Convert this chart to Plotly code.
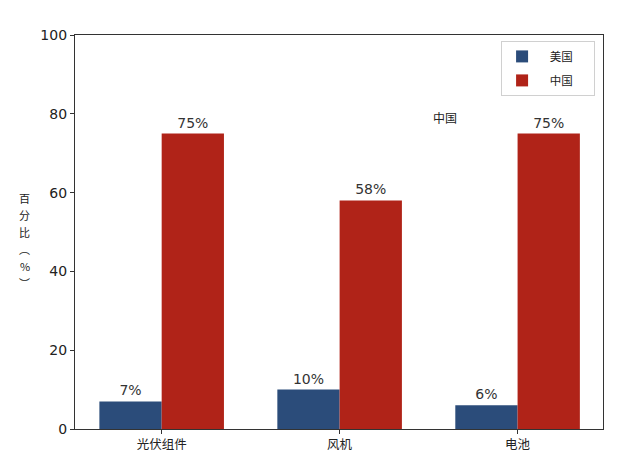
import plotly.graph_objects as go

categories = ["光伏组件", "风机", "电池"]
us_values = [7, 10, 6]
cn_values = [75, 58, 75]
series_names = ["美国", "中国"]
y_ticks = [0, 20, 40, 60, 80, 100]
y_label_chars = ["百", "分", "比", "︵", "%", "︶"]

BLUE = "#2b4c7a"
RED = "#b02318"
FONT = "DejaVu Sans, Noto Sans CJK SC, sans-serif"
NB = "\u00a0"

fig = go.Figure()
fig.add_trace(go.Bar(
    x=categories, y=us_values, name=NB * 3 + series_names[0] + NB * 6,
    legendgroup="a", marker_color=BLUE, marker_line_width=0,
    text=[f"{v}%" for v in us_values], textposition="outside",
    textfont=dict(size=14, color="#333333", family=FONT), cliponaxis=False,
))
fig.add_trace(go.Bar(
    x=categories, y=cn_values, name=NB * 3 + series_names[1] + NB * 6,
    legendgroup="b", marker_color=RED, marker_line_width=0,
    text=[f"{v}%" for v in cn_values], textposition="outside",
    textfont=dict(size=14, color="#333333", family=FONT), cliponaxis=False,
))

fig.update_layout(
    width=632, height=465,
    margin=dict(l=67, r=37, t=27, b=44),
    paper_bgcolor="white", plot_bgcolor="white",
    barmode="group", bargap=0.3, bargroupgap=0,
    font=dict(family=FONT, color="#222222"),
    showlegend=True,
    legend=dict(
        x=0.985, y=0.985, xanchor="right", yanchor="top",
        bordercolor="#d0d0d0", borderwidth=1, bgcolor="white",
        font=dict(size=11.5, family="Noto Sans CJK SC"),
        itemwidth=30, tracegroupgap=5,
    ),
)
fig.update_xaxes(
    range=[-0.487, 2.48], showline=True, linecolor="#333333", linewidth=1.2,
    mirror=True, ticks="outside", ticklen=4, tickcolor="#333333",
    tickfont=dict(size=12.5, family="Noto Sans CJK SC", color="#222222"),
    showgrid=False,
)
fig.update_yaxes(
    range=[0, 100], tickvals=y_ticks, showline=True, linecolor="#333333",
    linewidth=1.2, mirror=True, ticks="outside", ticklen=4, tickcolor="#333333",
    tickfont=dict(size=14, color="#222222"), showgrid=False, zeroline=False,
)

n = len(y_label_chars)
step = 17
for i, ch in enumerate(y_label_chars):
    fig.add_annotation(
        text=ch, xref="paper", yref="paper",
        x=-0.095, y=0.478, yshift=(n - 1) / 2 * step - i * step,
        showarrow=False, xanchor="center", yanchor="middle",
        font=dict(size=11, family="Noto Sans CJK SC", color="#222222"),
    )
fig.add_annotation(
    text="中国", xref="x", yref="y", x=1.59, y=79, showarrow=False,
    font=dict(size=12, family="Noto Sans CJK SC", color="#222222"),
)

fig.write_html("out.html")
